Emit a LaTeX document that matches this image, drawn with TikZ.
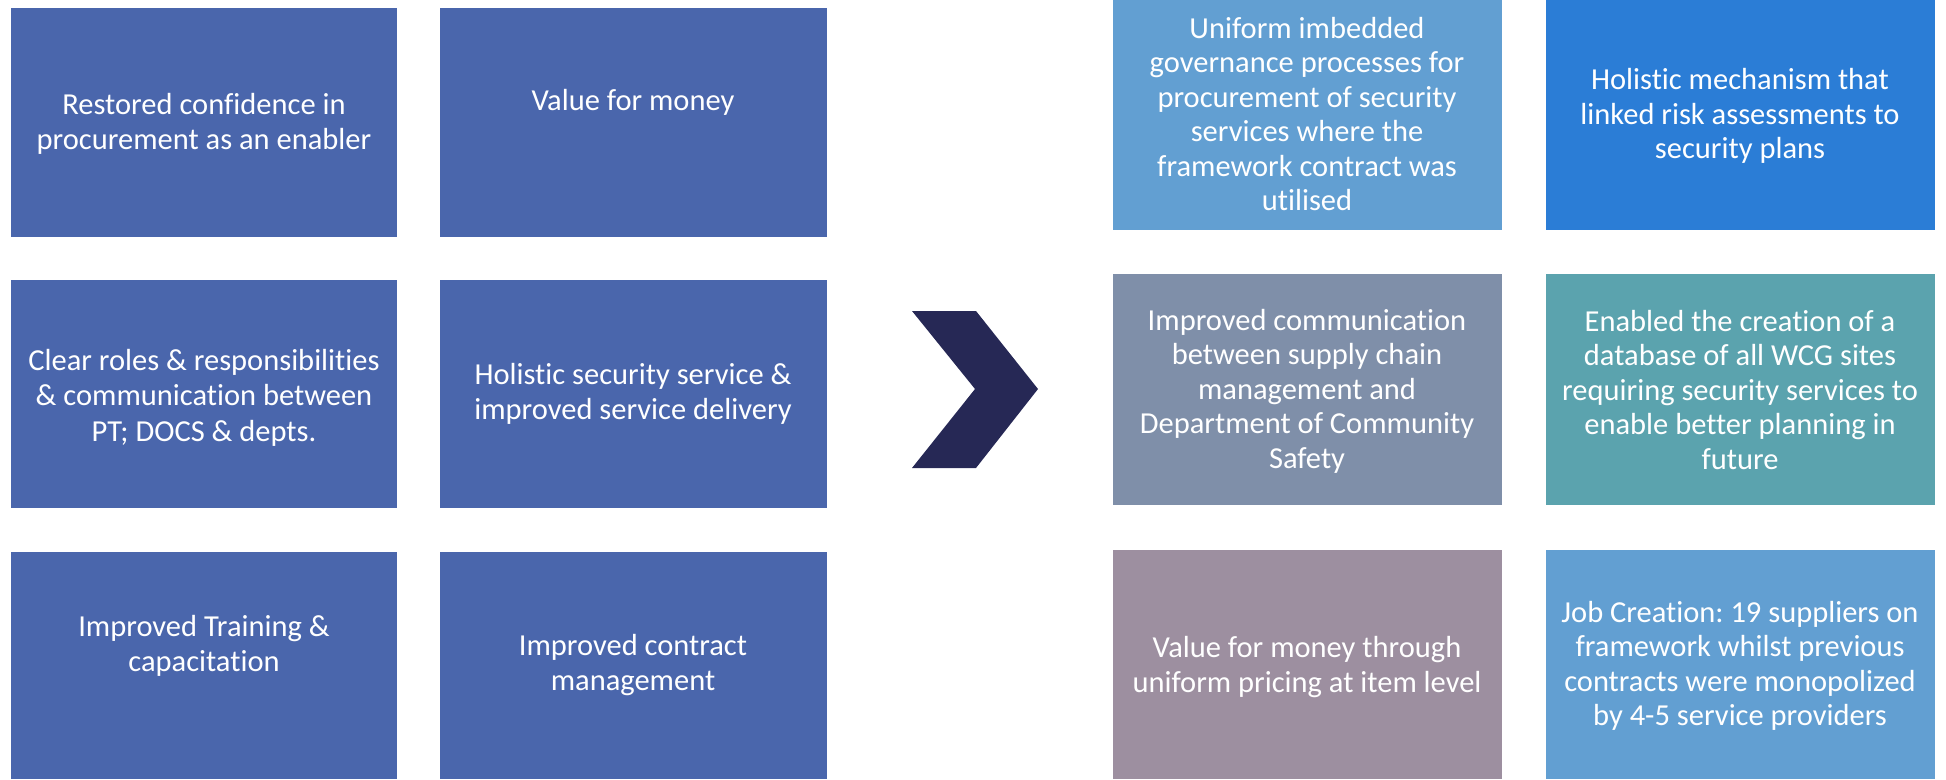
\documentclass[tikz,border=0pt]{standalone}
\usepackage{fontspec}
\setmainfont{Carlito}[Ligatures={CommonOff}]
\frenchspacing
\definecolor{lblue}{HTML}{4A66AC}
\definecolor{rA}{HTML}{629FD2}
\definecolor{rB}{HTML}{2B7DD6}
\definecolor{rC}{HTML}{7F8FA9}
\definecolor{rD}{HTML}{5BA3AE}
\definecolor{rE}{HTML}{9D8FA0}
\definecolor{chev}{HTML}{262855}
\tikzset{
  boxtxt/.style={text=white, align=center, inner sep=0pt,
    font=\fontsize{30.5}{34.5}\selectfont},
}
\begin{document}
\begin{tikzpicture}[x=1pt,y=-1pt]
\useasboundingbox (0,0) rectangle (1946,779);
% left boxes
\fill[lblue] (11,8) rectangle (397,237);
\fill[lblue] (440,8) rectangle (827,237);
\fill[lblue] (11,280) rectangle (397,508);
\fill[lblue] (440,280) rectangle (827,508);
\fill[lblue] (11,552) rectangle (397,779);
\fill[lblue] (440,552) rectangle (827,779);
% right boxes
\fill[rA] (1113,0) rectangle (1502,230);
\fill[rB] (1546,0) rectangle (1935,230);
\fill[rC] (1113,274) rectangle (1502,505);
\fill[rD] (1546,274) rectangle (1935,505);
\fill[rE] (1113,550) rectangle (1502,779);
\fill[rA] (1546,550) rectangle (1935,779);
% chevron
\fill[chev] (912,311) -- (976,311) -- (1038,389) -- (976,468) -- (912,468) -- (975,389) -- cycle;
% texts
\node[boxtxt] (t1) at (204,124) {Restored confidence in\\procurement as an enabler};
\node[boxtxt] (t2) at (633,102) {Value for money};
\node[boxtxt] (t3) at (204,398) {Clear roles \& responsibilities\\\& communication between\\[2pt]PT; DOCS \& depts.};
\node[boxtxt] (t4) at (633,394) {Holistic security service \&\\improved service delivery};
\node[boxtxt] (t5) at (204,646) {Improved Training \&\\capacitation};
\node[boxtxt] (t6) at (633,665) {Improved contract\\management};
\node[boxtxt] (t7) at (1307,114) {Uniform imbedded\\governance processes for\\procurement of security\\services where the\\framework contract was\\utilised};
\node[boxtxt] (t8) at (1740,116) {Holistic mechanism that\\linked risk assessments to\\security plans};
\node[boxtxt] (t9) at (1307,391) {Improved communication\\between supply chain\\management and\\Department of Community\\Safety};
\node[boxtxt] (t10) at (1740,390) {Enabled the creation of a\\database of all WCG sites\\requiring security services to\\enable better planning in\\future};
\node[boxtxt] (t11) at (1307,667) {Value for money through\\uniform pricing at item level};
\node[boxtxt] (t12) at (1740,666) {Job Creation: 19 suppliers on\\framework whilst previous\\contracts were monopolized\\by 4-5 service providers};
\end{tikzpicture}
\end{document}
